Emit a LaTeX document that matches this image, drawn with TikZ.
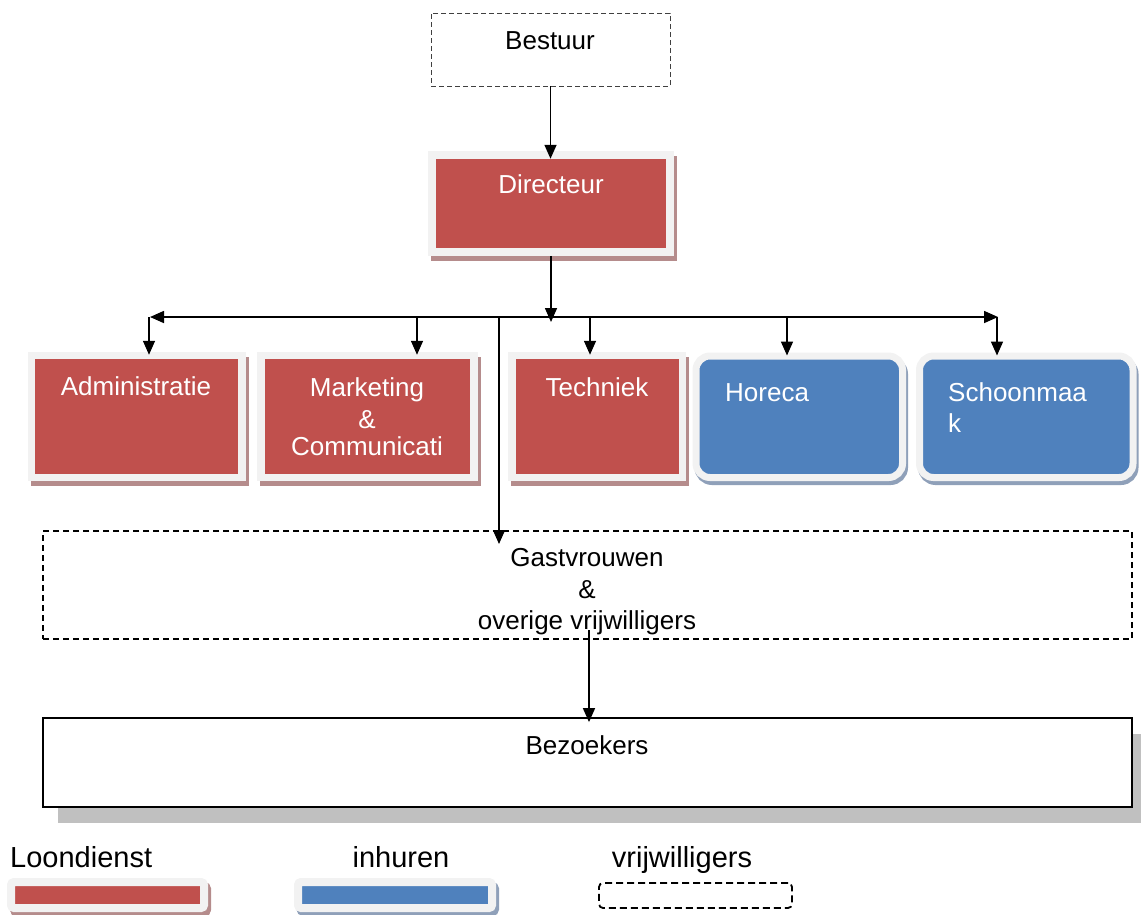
\documentclass[tikz,border=0pt]{standalone}
\usepackage{fontspec}
\setmainfont{Liberation Sans}
\usetikzlibrary{arrows.meta}
\definecolor{redc}{HTML}{C0504D}
\definecolor{bluec}{HTML}{4F81BD}
\definecolor{framec}{HTML}{F2F2F2}
\definecolor{redsh}{HTML}{B58C8C}
\definecolor{bluesh}{HTML}{8FA0B9}
\definecolor{graysh}{HTML}{C0C0C0}
\begin{document}
\begin{tikzpicture}[x=1pt,y=-1pt,
  txt/.style={font=\fontsize{26}{30}\selectfont, inner sep=0pt, anchor=base},
  ltxt/.style={font=\fontsize{29}{33}\selectfont, inner sep=0pt, anchor=base},
  wtxt/.style={txt, text=white},
  redbox/.style={rectangle, fill=redc, draw=framec, line width=7.5pt, inner sep=0pt,
    preaction={draw=redsh, fill=redsh, line width=7.5pt, transform canvas={shift={(3pt,-5pt)}}}},
  bluebox/.style={rectangle, rounded corners=14pt, fill=bluec, draw=framec, line width=7pt, inner sep=0pt,
    preaction={draw=bluesh, fill=bluesh, line width=7pt, transform canvas={shift={(2pt,-4pt)}}}},
  arr/.style={line width=1.6pt, -{Triangle[length=14pt,width=12pt]}},
  arrtwo/.style={line width=1.6pt, {Triangle[length=14pt,width=12pt]}-{Triangle[length=14pt,width=12pt]}},
  volbox/.style={rectangle, draw=black, line width=1.1pt, dash pattern=on 6pt off 4pt, inner sep=0pt},
]
\useasboundingbox (0,0) rectangle (1141,914);

% Bestuur
\node[volbox, draw=black!75, line width=0.8pt, dash pattern=on 5pt off 3pt,
      minimum width=239pt, minimum height=73pt] (best) at (550.5,49.5) {};
\node[txt] (bestt) at (550,49) {Bestuur};

% Directeur
\node[redbox, minimum width=238pt, minimum height=97pt] (dir) at (551,203.5) {};
\node[wtxt] (dirt) at (551,193) {Directeur};

% Row of departments
\node[redbox, minimum width=210.5pt, minimum height=122pt] (adm) at (136.75,416.5) {};
\node[redbox, minimum width=213pt, minimum height=122pt] (mkt) at (367.5,416.5) {};
\node[redbox, minimum width=170.5pt, minimum height=122pt] (tec) at (597.25,416.5) {};
\node[bluebox, minimum width=206.5pt, minimum height=121.5pt] (hor) at (799.25,416.75) {};
\node[bluebox, minimum width=213.5pt, minimum height=121.5pt] (sch) at (1026.25,416.75) {};

\node[wtxt] (admt) at (136,395) {Administratie};
\node[wtxt] (mkta) at (367,396) {Marketing};
\node[wtxt] (mktb) at (367,428) {\&};
\node[wtxt] (mktc) at (367,455) {Communicati};
\node[wtxt] (tect) at (597,396) {Techniek};
\node[wtxt, anchor=base west] (hort) at (725,401) {Horeca};
\node[wtxt, anchor=base west] (scha) at (948,401) {Schoonmaa};
\node[wtxt, anchor=base west] (schb) at (948,432) {k};

% Gastvrouwen
\node[volbox, minimum width=1089pt, minimum height=108pt] (gast) at (587.5,585) {};
\node[txt] (gasta) at (587,566) {Gastvrouwen};
\node[txt] (gastb) at (587,598) {\&};
\node[txt] (gastc) at (587,629) {overige vrijwilligers};

% Bezoekers
\node[rectangle, draw=black, line width=1.8pt, fill=white, inner sep=0pt,
      minimum width=1089pt, minimum height=89pt,
      preaction={fill=graysh, draw=none, transform canvas={shift={(15pt,-16pt)}}}] (bez) at (587.5,762.5) {};
\node[txt] (bezt) at (587,754) {Bezoekers};

% Connectors
\draw[arr, shorten >=-7.5pt] (best.south) -- (best.south |- dir.north);
\coordinate (busm) at (551,322);
\draw[arr] (dir.south) -- (busm);
\coordinate (busl) at (150,317);
\coordinate (busr) at (998,317);
\draw[arrtwo] (busl) -- (busr);
\coordinate (b1) at (149,317);
\coordinate (b2) at (417,317);
\coordinate (b3) at (590,317);
\coordinate (b4) at (787,317);
\coordinate (b5) at (997,317);
\draw[arr, shorten >=-3pt] (b1) -- (b1 |- adm.north);
\draw[arr, shorten >=-3pt] (b2) -- (b2 |- mkt.north);
\draw[arr, shorten >=-3pt] (b3) -- (b3 |- tec.north);
\draw[arr, shorten >=-3pt] (b4) -- (b4 |- hor.north);
\draw[arr, shorten >=-3pt] (b5) -- (b5 |- sch.north);
\coordinate (bg) at (499,317);
\coordinate (gtip) at (499,544);
\draw[arr] (bg) -- (gtip);
\coordinate (gs) at (589,630);
\draw[arr, shorten >=-5pt] (gs) -- (gs |- bez.north);

% Legend
\node[ltxt, anchor=base west] (lga) at (10,867) {Loondienst};
\node[ltxt] (lgb) at (401,867) {inhuren};
\node[ltxt] (lgc) at (682,867) {vrijwilligers};
\node[redbox, line width=8pt, rounded corners=3pt, minimum width=193pt, minimum height=26pt,
      preaction={draw=redsh, fill=redsh, line width=8pt, rounded corners=3pt, transform canvas={shift={(3pt,-4pt)}}}] (lr) at (107.5,895) {};
\node[bluebox, line width=8pt, rounded corners=3pt, minimum width=194pt, minimum height=26pt,
      preaction={draw=bluesh, fill=bluesh, line width=8pt, rounded corners=3pt, transform canvas={shift={(3pt,-4pt)}}}] (lb) at (395,895) {};
\node[volbox, line width=1.8pt, dash pattern=on 7pt off 4pt, rounded corners=4pt,
      minimum width=193pt, minimum height=25pt] (lv) at (695.5,895.5) {};
\end{tikzpicture}
\end{document}
